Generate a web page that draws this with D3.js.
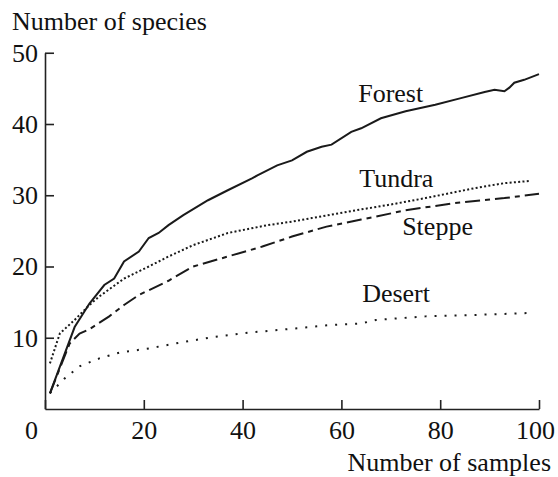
<!DOCTYPE html>
<html>
<head>
<meta charset="utf-8">
<script src="https://cdn.jsdelivr.net/npm/d3@7"></script>
<style>
  body { margin: 0; background: #fff; }
</style>
</head>
<body>
<svg id="chart" width="558" height="477"></svg>
<script>
// values (samples -> species)
const forestX = [1, 6, 9, 12, 14, 16, 19, 21, 23, 25, 28, 33, 37, 42, 43, 47, 50, 53, 56, 58, 62, 64, 68, 73, 79, 84, 89, 91, 93, 94, 95, 97, 100];
const forestY = [2.2, 11.5, 14.8, 17.4, 18.3, 20.7, 22.1, 24.0, 24.7, 25.8, 27.2, 29.3, 30.7, 32.4, 32.8, 34.2, 34.9, 36.1, 36.8, 37.1, 38.9, 39.4, 40.8, 41.8, 42.7, 43.6, 44.5, 44.8, 44.6, 45.1, 45.8, 46.2, 47.0];

const tundraX = [1, 3, 6, 9, 11, 16, 21, 25, 30, 37, 45, 50, 54, 63, 70, 77, 87, 93, 98];
const tundraY = [6.4, 10.6, 12.5, 14.6, 15.8, 18.3, 20.0, 21.4, 23.0, 24.7, 25.8, 26.3, 26.8, 27.9, 28.7, 29.6, 31.0, 31.7, 32.0];

const steppeX = [1, 5, 7, 9, 13, 16, 19, 25, 30, 37, 44, 50, 57, 64, 67, 73, 83, 93, 100];
const steppeY = [2.2, 9.2, 10.6, 11.2, 13.0, 14.6, 16.0, 18.0, 20.0, 21.4, 22.8, 24.2, 25.6, 26.6, 27.0, 27.9, 28.9, 29.6, 30.2];

const desertX = [1, 4, 7, 11, 15, 21, 28, 34, 41, 49, 58, 64, 67, 77, 87, 99];
const desertY = [2.2, 4.3, 6.0, 7.1, 7.9, 8.5, 9.4, 10.1, 10.7, 11.2, 11.8, 12.0, 12.5, 13.0, 13.2, 13.5];

const xTicks = [0, 20, 40, 60, 80, 100];
const yTicks = [10, 20, 30, 40, 50];

// name, label anchor (data coords)
const labelNames = ["Forest", "Tundra", "Steppe", "Desert"];
const labelX = [63.4, 63.6, 72.3, 64.2];
const labelY = [43.1, 31.2, 24.4, 15.0];

const series = [
  { xs: forestX, ys: forestY, dash: null },
  { xs: tundraX, ys: tundraY, dash: "2,2.3" },
  { xs: steppeX, ys: steppeY, dash: "15,5,5,5" },
  { xs: desertX, ys: desertY, dash: "2,8" },
];

const FONT = "'Liberation Serif'";

const svg = d3.select("#chart");
const x = d3.scaleLinear().domain([0, 100]).range([45, 539]);
const y = d3.scaleLinear().domain([0, 50]).range([409, 52.75]);

const xAxis = svg.append("g")
  .attr("transform", "translate(0," + y(0) + ")")
  .call(d3.axisBottom(x).tickValues(xTicks).tickSizeInner(-9).tickSizeOuter(0).tickPadding(12));
const yAxis = svg.append("g")
  .attr("transform", "translate(" + x(0) + ",0)")
  .call(d3.axisLeft(y).tickValues(yTicks).tickSizeInner(-9).tickSizeOuter(0).tickPadding(7));

[xAxis, yAxis].forEach((a) => {
  a.attr("font-family", null).attr("font-size", null);
  a.selectAll("path, line").attr("stroke", "#222").attr("stroke-width", 1.6);
  a.selectAll("text")
    .style("font-family", FONT)
    .style("font-size", "26px")
    .attr("fill", "#111");
});

// nudge the end labels like the original
xAxis.selectAll(".tick text")
  .attr("dx", (d) => (d === 0 ? -14 : d === 100 ? -4 : 0));

const line = d3.line()
  .x((d) => x(d[0]))
  .y((d) => y(d[1]))
  .curve(d3.curveLinear);

series.forEach((s) => {
  svg.append("path")
    .datum(d3.zip(s.xs, s.ys))
    .attr("d", line)
    .attr("fill", "none")
    .attr("stroke", "#1a1a1a")
    .attr("stroke-width", 2)
    .attr("stroke-dasharray", s.dash);
});

function label(sel) {
  return sel.style("font-family", FONT).style("font-size", "26px").attr("fill", "#111");
}

labelNames.forEach((name, i) => {
  svg.append("text")
    .attr("x", x(labelX[i]))
    .attr("y", y(labelY[i]))
    .call(label)
    .text(name);
});

svg.append("text")
  .attr("x", 12)
  .attr("y", 30)
  .call(label)
  .text("Number of species");

svg.append("text")
  .attr("x", 551)
  .attr("y", 471)
  .attr("text-anchor", "end")
  .call(label)
  .text("Number of samples");
</script>
</body>
</html>
